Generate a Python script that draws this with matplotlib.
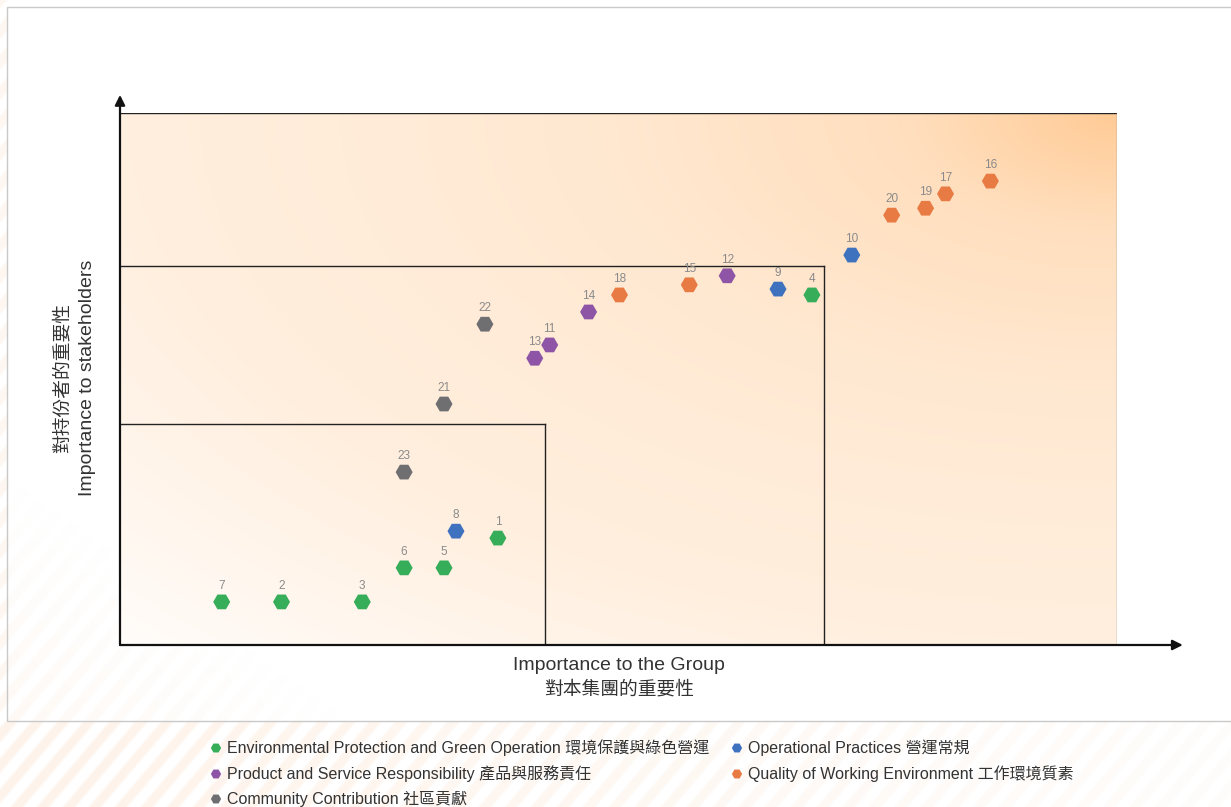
import numpy as np
import matplotlib.pyplot as plt
from matplotlib.patches import Rectangle

plt.rcParams['font.family'] = ['Liberation Sans', 'Noto Sans CJK TC', 'DejaVu Sans']

# materiality issues: id, importance to group (x), importance to stakeholders (y), category
issue_ids = [1, 2, 3, 4, 5, 6, 7, 8, 9, 10, 11, 12, 13, 14, 15, 16, 17, 18, 19, 20, 21, 22, 23]
group_imp = [37.9, 16.2, 24.3, 69.4, 32.5, 28.5, 10.2, 33.7, 66.0, 73.4, 43.1, 60.9,
             41.6, 47.0, 57.1, 87.3, 82.8, 50.1, 80.8, 77.4, 32.5, 36.6, 28.5]
stake_imp = [20.1, 8.1, 8.1, 65.8, 14.5, 14.5, 8.1, 21.4, 66.9, 73.3, 56.4, 69.4,
             53.9, 62.6, 67.7, 87.2, 84.8, 65.8, 82.1, 80.8, 45.3, 60.3, 32.5]
issue_cat = [0, 0, 0, 0, 0, 0, 0, 1, 1, 1, 2, 2, 2, 2, 3, 3, 3, 3, 3, 3, 4, 4, 4]

cat_names = ["Environmental Protection and Green Operation 環境保護與綠色營運",
             "Operational Practices 營運常規",
             "Product and Service Responsibility 產品與服務責任",
             "Quality of Working Environment 工作環境質素",
             "Community Contribution 社區貢獻"]
cat_colors = ["#36ad59", "#3f72be", "#8e55a6", "#e87a43", "#6f6f72"]

# zone boundaries (x, y) of the nested boxes
zones = [(100, 100), (70.6, 71.2), (42.6, 41.5)]

W, H = 1231, 807
fig = plt.figure(figsize=(W / 100, H / 100), dpi=100)

# background: faint diagonal stripes and a light frame
bg = fig.add_axes([0, 0, 1, 1], zorder=0)
bg.set_xlim(0, W)
bg.set_ylim(H, 0)
bg.axis('off')
cols, rows = np.meshgrid(np.arange(W), np.arange(H))
s = 0.5 + 0.5 * np.cos(2 * np.pi * (cols + 0.85 * rows) / 26.0)
s = np.clip((s - 0.35) * 2.5, 0, 1)
inside = (cols > 7) & (rows > 7) & (rows < 721)
w_in = np.clip(1.0 - cols / 350.0 - (721 - rows) / 250.0, 0, 1) * 0.5
w_out = np.clip(1.0 - cols / 1500.0, 0.2, 1) * np.where(rows > 721, 1.0, 0.0)
w = np.where(inside, w_in, np.maximum(w_out, np.where(cols <= 7, 0.7, 0.0)))
peach = np.array([254, 243, 234]) / 255.0
img = 1 - (s * w)[..., None] * (1 - peach)[None, None, :]
bg.imshow(img, extent=(0, W, H, 0), aspect='auto', interpolation='bilinear')
bg.add_patch(Rectangle((7, 7), W, 714, fill=False, edgecolor="#c9c9c9", lw=1))

# main matrix axes
ax = fig.add_axes([120 / W, (H - 645) / H, 997 / W, 532 / H], zorder=2)
ax.set_xlim(0, 100)
ax.set_ylim(0, 100)
ax.axis('off')

gx, gy = np.meshgrid(np.linspace(0, 1, 400), np.linspace(0, 1, 300))
r = np.sqrt((1 - gx) ** 2 + (1 - gy) ** 2) / np.sqrt(2)
f = np.interp(r, [0, 0.15, 0.35, 0.5, 0.7, 0.85, 1.0], [1.0, 0.62, 0.45, 0.38, 0.31, 0.18, 0.05])
orange = np.array([255, 203, 150]) / 255.0
grad = 1 - f[..., None] * (1 - orange)[None, None, :]
ax.imshow(grad, extent=(0, 100, 0, 100), origin='lower', aspect='auto', zorder=0)

for i, (zx, zy) in enumerate(zones):
    ec = "#222222"
    ax.plot([0, zx], [zy, zy], color=ec, lw=1.0, zorder=1)
    ax.plot([zx, zx], [0, zy], color="#888888" if i == 0 else ec, lw=1.0, zorder=1)

for tip in [(106.6, 0), (0, 103.4)]:
    ax.annotate('', xy=tip, xytext=(0, 0), annotation_clip=False,
                arrowprops=dict(arrowstyle='-|>', color='#111111', lw=1.6, mutation_scale=15,
                                shrinkA=0, shrinkB=0))

colors = [cat_colors[c] for c in issue_cat]
ax.scatter(group_imp, stake_imp, s=150, marker='H', c=colors, edgecolors='none', zorder=3)
for n, x, y in zip(issue_ids, group_imp, stake_imp):
    ax.annotate(str(n), (x, y), xytext=(0, 11.5), textcoords='offset points',
                ha='center', va='center', fontsize=8.5, color='#8a8a8a', zorder=4)

# axis titles
fig.text(619 / W, 1 - 665 / H, "Importance to the Group", ha='center', va='center',
         fontsize=14, color='#333333')
fig.text(619 / W, 1 - 690 / H, "對本集團的重要性", ha='center', va='center',
         fontsize=13.5, color='#333333')
fig.text(88 / W, 1 - 378 / H, "Importance to stakeholders", ha='center', va='center',
         rotation=90, fontsize=14, color='#333333')
fig.text(63 / W, 1 - 378 / H, "對持份者的重要性", ha='center', va='center',
         rotation=90, fontsize=13.5, color='#333333')

# legend
leg_pos = [(216, 748), (737, 748), (216, 774), (737, 774), (216, 799)]
for (lx, ly), name, col in zip(leg_pos, cat_names, cat_colors):
    bg.scatter([lx], [ly], s=55, marker='H', color=col, edgecolors='none', zorder=3)
    bg.text(lx + 11, ly, name, ha='left', va='center', fontsize=11.5, color='#333333')

fig.savefig("out.png", dpi=100)
